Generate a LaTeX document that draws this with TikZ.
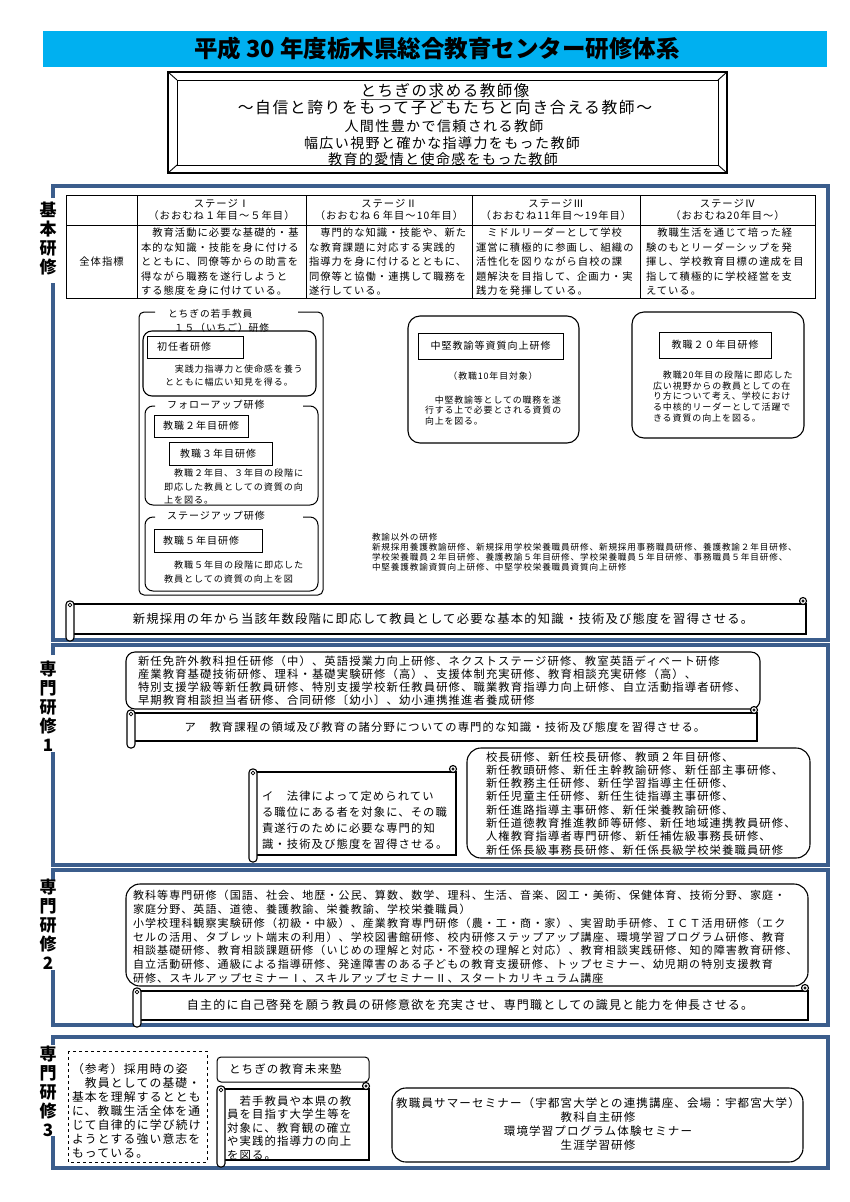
\documentclass[tikz,border=0pt]{standalone}
\usepackage{fontspec}
\setmainfont{Noto Sans CJK JP}
\newfontfamily\mj{Noto Sans CJK JP}[LetterSpace=10]
\usetikzlibrary{calc}
\definecolor{titlecyan}{HTML}{00B0F0}
\definecolor{frameblue}{HTML}{3B5D8C}
\newcommand{\fsz}[2]{\fontsize{#1}{#2}\selectfont\mj}
\newcommand{\hscroll}[4]{%
  \draw[scrl] (#1,#2) rectangle (#3,#4);
  \draw[black, line width=1.8pt] (#1,#4) -- (#3,#4);
  \draw[scrl, rounded corners=3.5pt] ({#1-4},{#2-3}) rectangle ({#1+4},{#4+7});
  \draw[black, line width=0.7pt] (#1,{#2+1}) circle (1.8pt);
  \draw[scrl] ({#3-3},{#2-3}) circle (3.5pt);
  \draw[black, line width=0.7pt] ({#3-3},{#2-3}) circle (1.2pt);
}
\begin{document}
\begin{tikzpicture}[x=1pt,y=-1pt,
  txt/.style={inner sep=0pt, outer sep=0pt, align=left, anchor=north west},
  ltxt/.style={inner sep=0pt, outer sep=0pt, anchor=west},
  ctxt/.style={inner sep=0pt, outer sep=0pt, align=center},
  bframe/.style={draw=frameblue, line width=3.5pt, line join=miter},
  rbox/.style={draw=black, line width=1.1pt, rounded corners=9pt},
  lbox/.style={draw=black, line width=0.8pt},
  scrl/.style={draw=black, line width=1.1pt, fill=white},
  tline/.style={draw=black, line width=0.8pt},
  vlab/.style={inner sep=0pt, align=center, font={\fontsize{17}{19}\selectfont\bfseries}}
]
\useasboundingbox (0,0) rectangle (850,1202);
\fill[white] (0,0) rectangle (850,1202);

% ---------- title ----------
\fill[titlecyan] (43,31) rectangle (827,67);
\node[ctxt, font={\fontsize{23.5}{25}\selectfont\bfseries}] (title) at (437,49) {平成 30 年度栃木県総合教育センター研修体系};

% ---------- ideal teacher frame ----------
\draw[line width=2.5pt] (168,72) rectangle (727,173);
\draw[line width=0.9pt] (177,80) rectangle (718,165);
\draw[line width=0.9pt] (168,72) -- (177,80) (727,72) -- (718,80) (168,173) -- (177,165) (727,173) -- (718,165);
\node[ctxt, font={\fsz{15.5}{17}}] (ideal) at (445,91) {とちぎの求める教師像};
\draw[line width=0.9pt, gray!70!black] ([yshift=-1.5pt]ideal.south west) -- ([yshift=-1.5pt]ideal.south east);
\node[ctxt, font={\fsz{15.8}{17}}] (ideal2) at (445,108) {～自信と誇りをもって子どもたちと向き合える教師～};
\node[ctxt, font={\fsz{14}{16}}] (ideal3) at (444,126) {人間性豊かで信頼される教師};
\node[ctxt, font={\fsz{14}{16}}] (ideal4) at (442,143) {幅広い視野と確かな指導力をもった教師};
\node[ctxt, font={\fsz{14}{16}}] (ideal5) at (443,159) {教育的愛情と使命感をもった教師};

% ---------- section 1 frame ----------
\draw[bframe] (53,198) -- (53,186) -- (828,186) -- (828,640) -- (53,640) -- (53,283);
\node[vlab] (lab1) at (48,238.5) {基\\本\\研\\修};

% table
\draw[tline] (66,195) rectangle (815,298);
\draw[tline] (66,225) -- (815,225);
\foreach \xx in {137,306,472,640} \draw[tline] (\xx,195) -- (\xx,298);
\node[ctxt, font={\fsz{10.3}{12}}] (h1) at (221.5,210) {ステージⅠ\\（おおむね１年目～５年目）};
\node[ctxt, font={\fsz{10.3}{12}}] (h2) at (389,210) {ステージⅡ\\（おおむね６年目～10年目）};
\node[ctxt, font={\fsz{10.3}{12}}] (h3) at (556,210) {ステージⅢ\\（おおむね11年目～19年目）};
\node[ctxt, font={\fsz{10.3}{12}}] (h4) at (727.5,210) {ステージⅣ\\（おおむね20年目～）};
\node[ctxt, font={\fsz{10.3}{12}}] (c0) at (101.5,262) {全体指標};
\node[txt, font={\fsz{10.3}{14.5}}] (c1) at (141,228) {　教育活動に必要な基礎的・基\\本的な知識・技能を身に付ける\\とともに、同僚等からの助言を\\得ながら職務を遂行しようと\\する態度を身に付けている。};
\node[txt, font={\fsz{10.3}{14.5}}] (c2) at (309,228) {　専門的な知識・技能や、新た\\な教育課題に対応する実践的\\指導力を身に付けるとともに、\\同僚等と協働・連携して職務を\\遂行している。};
\node[txt, font={\fsz{10.3}{14.5}}] (c3) at (476,228) {　ミドルリーダーとして学校\\運営に積極的に参画し、組織の\\活性化を図りながら自校の課\\題解決を目指して、企画力・実\\践力を発揮している。};
\node[txt, font={\fsz{10.3}{14.5}}] (c4) at (646,228) {　教職生活を通じて培った経\\験のもとリーダーシップを発\\揮し、学校教育目標の達成を目\\指して積極的に学校経営を支\\えている。};

% wakate group
\draw[line width=1pt, rounded corners=5pt] (155,312) -- (139,312) -- (139,595) -- (323,595) -- (323,312) -- (298,312);
\node[ltxt, font={\fsz{9.7}{12}}] (wt1) at (168,314) {とちぎの若手教員};
\node[ltxt, font={\fsz{9.7}{12}}] (wt2) at (174,328) {１５（いちご）研修};
% subbox 1
\draw[rbox] (143,331) rectangle (316,396);
\draw[lbox] (147,336) rectangle (243,358);
\node[ltxt, font={\fsz{10}{12}}] (shonin) at (157,347) {初任者研修};
\node[txt, font={\fsz{9}{13}}] (shonint) at (165,365) {　実践力指導力と使命感を養う\\とともに幅広い知見を得る。};
% subbox 2
\draw[line width=1pt, rounded corners=8pt] (155,406) -- (145,406) -- (145,505) -- (318,505) -- (318,406) -- (303,406);
\node[ltxt, font={\fsz{10}{12}}] (follow) at (167,405) {フォローアップ研修};
\draw[lbox] (154,415) rectangle (248,437);
\node[ltxt, font={\fsz{10}{12}}] (y2) at (163,426) {教職２年目研修};
\draw[lbox] (169,442) rectangle (272,465);
\node[ltxt, font={\fsz{10}{12}}] (y3) at (180,453.5) {教職３年目研修};
\node[txt, font={\fsz{9.1}{13.5}}] (y23t) at (164,469) {　教職２年目、３年目の段階に\\即応した教員としての資質の向\\上を図る。};
% subbox 3
\draw[line width=1pt, rounded corners=8pt] (155,517) -- (145,517) -- (145,591) -- (318,591) -- (318,517) -- (303,517);
\node[ltxt, font={\fsz{10}{12}}] (stage) at (167,516) {ステージアップ研修};
\draw[lbox] (154,529) rectangle (262,552);
\node[ltxt, font={\fsz{10}{12}}] (y5) at (163,540.5) {教職５年目研修};
\node[txt, font={\fsz{9.1}{14}}] (y5t) at (164,560.5) {　教職５年目の段階に即応した\\教員としての資質の向上を図};

% chuken box
\draw[rbox, rounded corners=12pt] (408,316) rectangle (579,443);
\draw[lbox] (418,333) rectangle (563,359);
\node[ctxt, font={\fsz{10}{12}}] (chuken) at (490.5,346) {中堅教諭等資質向上研修};
\node[ctxt, font={\fsz{8.9}{11}}] (chuken10) at (493,376) {（教職10年目対象）};
\node[txt, font={\fsz{8.9}{10.4}}] (chukent) at (425,396) {　中堅教諭等としての職務を遂\\行する上で必要とされる資質の\\向上を図る。};

% 20 year box
\draw[rbox, rounded corners=12pt] (632,312) rectangle (804,438);
\draw[lbox] (659,332) rectangle (771,358);
\node[ctxt, font={\fsz{10}{12}}] (y20) at (715,345) {教職２０年目研修};
\node[txt, font={\fsz{9}{10.6}}] (y20t) at (653,371) {　教職20年目の段階に即応した\\広い視野からの教員としての在\\り方について考え、学校におけ\\る中核的リーダーとして活躍で\\きる資質の向上を図る。};

% others
\node[txt, font={\fsz{8.6}{10}}] (others) at (372,533.7) {教諭以外の研修\\新規採用養護教諭研修、新規採用学校栄養職員研修、新規採用事務職員研修、養護教諭２年目研修、\\学校栄養職員２年目研修、養護教諭５年目研修、学校栄養職員５年目研修、事務職員５年目研修、\\中堅養護教諭資質向上研修、中堅学校栄養職員資質向上研修};

% scroll 1
\hscroll{70}{604}{806}{634}
\node[ctxt, font={\fsz{12.3}{14}}] (goal1) at (443,619) {新規採用の年から当該年数段階に即応して教員として必要な基本的知識・技術及び態度を習得させる。};

% ---------- section 2 ----------
\draw[bframe] (53,655) -- (53,645) -- (828,645) -- (828,865) -- (53,865) -- (53,752);
\node[vlab] (lab2) at (48,706.5) {専\\門\\研\\修\\1};
\draw[rbox] (126,652) rectangle (760,709);
\node[txt, font={\fsz{11.3}{13}}] (list1) at (138,656.3) {新任免許外教科担任研修（中）、英語授業力向上研修、ネクストステージ研修、教室英語ディベート研修\\産業教育基礎技術研修、理科・基礎実験研修（高）、支援体制充実研修、教育相談充実研修（高）、\\特別支援学級等新任教員研修、特別支援学校新任教員研修、職業教育指導力向上研修、自立活動指導者研修、\\早期教育相談担当者研修、合同研修〔幼小〕、幼小連携推進者養成研修};
\hscroll{131}{713}{757}{741}
\node[ctxt, font={\fsz{11.3}{13}}] (goalA) at (445,727) {ア　教育課程の領域及び教育の諸分野についての専門的な知識・技術及び態度を習得させる。};
\hscroll{253}{772}{456}{855}
\node[txt, font={\fsz{11.3}{16}}] (goalB) at (262,791) {イ　法律によって定められてい\\る職位にある者を対象に、その職\\責遂行のために必要な専門的知\\識・技術及び態度を習得させる。};
\draw[rbox, rounded corners=14pt] (467,748) rectangle (810,858);
\node[txt, font={\fsz{11.3}{13.3}}] (listB) at (486,751.5) {校長研修、新任校長研修、教頭２年目研修、\\新任教頭研修、新任主幹教諭研修、新任部主事研修、\\新任教務主任研修、新任学習指導主任研修、\\新任児童主任研修、新任生徒指導主事研修、\\新任進路指導主事研修、新任栄養教諭研修、\\新任道徳教育推進教師等研修、新任地域連携教員研修、\\人権教育指導者専門研修、新任補佐級事務長研修、\\新任係長級事務長研修、新任係長級学校栄養職員研修};

% ---------- section 3 ----------
\draw[bframe] (53,880) -- (53,870) -- (828,870) -- (828,1025) -- (53,1025) -- (53,970);
\node[vlab] (lab3) at (48,924) {専\\門\\研\\修\\2};
\draw[rbox, rounded corners=14pt] (126,884) rectangle (808,986);
\node[txt, font={\fsz{11}{13.7}}] (list2) at (133,890.5) {教科等専門研修（国語、社会、地歴・公民、算数、数学、理科、生活、音楽、図工・美術、保健体育、技術分野、家庭・\\家庭分野、英語、道徳、養護教諭、栄養教諭、学校栄養職員）\\小学校理科観察実験研修（初級・中級）、産業教育専門研修（農・工・商・家）、実習助手研修、ＩＣＴ活用研修（エク\\セルの活用、タブレット端末の利用）、学校図書館研修、校内研修ステップアップ講座、環境学習プログラム研修、教育\\相談基礎研修、教育相談課題研修（いじめの理解と対応・不登校の理解と対応）、教育相談実践研修、知的障害教育研修、\\自立活動研修、通級による指導研修、発達障害のある子どもの教育支援研修、トップセミナー、幼児期の特別支援教育\\研修、スキルアップセミナーⅠ、スキルアップセミナーⅡ、スタートカリキュラム講座};
\hscroll{137}{991}{808}{1020}
\node[ctxt, font={\fsz{12}{14}}] (goal2) at (470,1005) {自主的に自己啓発を願う教員の研修意欲を充実させ、専門職としての識見と能力を伸長させる。};

% ---------- section 4 ----------
\draw[bframe] (53,1045) -- (53,1037) -- (828,1037) -- (828,1168) -- (53,1168) -- (53,1136);
\node[vlab] (lab4) at (48,1091) {専\\門\\研\\修\\3};
\draw[line width=1pt, dashed] (68,1051) rectangle (207,1162);
\node[txt, font={\fsz{11.8}{14}}] (ref) at (72,1063) {（参考）採用時の姿\\　教員としての基礎・\\基本を理解するととも\\に、教職生活全体を通\\じて自律的に学び続け\\ようとする強い意志を\\もっている。};
\draw[line width=1pt, rounded corners=4pt] (217,1057) rectangle (369,1082);
\node[ltxt, font={\fsz{11.5}{13}}] (mirai) at (229,1069.5) {とちぎの教育未来塾};
\hscroll{221}{1089}{369}{1160}
\node[txt, font={\fsz{11.4}{13.5}}] (miraiT) at (227,1095.5) {　若手教員や本県の教\\員を目指す大学生等を\\対象に、教育観の確立\\や実践的指導力の向上\\を図る。};
\draw[rbox, rounded corners=14pt] (392,1088) rectangle (803,1162);
\node[ctxt, font={\fsz{11.5}{14}}] (seminar) at (598,1124) {教職員サマーセミナー（宇都宮大学との連携講座、会場：宇都宮大学）\\教科自主研修\\環境学習プログラム体験セミナー\\生涯学習研修};
\end{tikzpicture}
\end{document}
